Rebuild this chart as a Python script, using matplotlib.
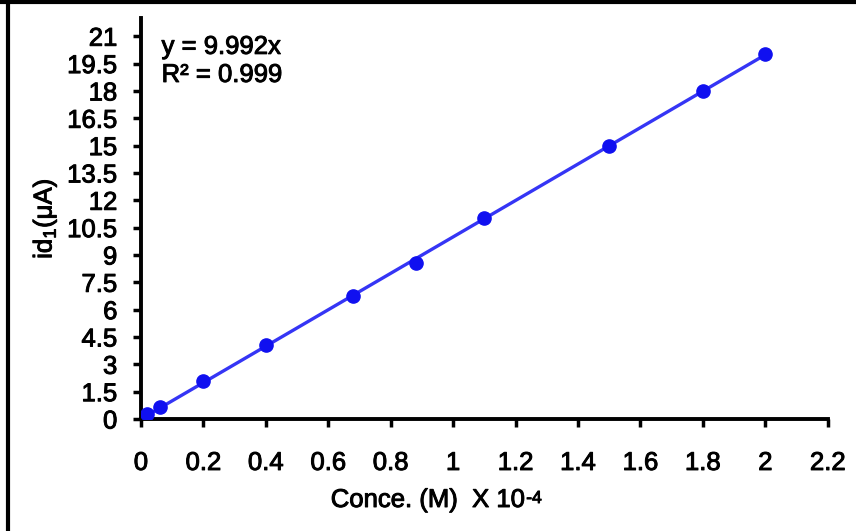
import numpy as np
import matplotlib
matplotlib.use("Agg")
import matplotlib.pyplot as plt
import matplotlib.patheffects as pe
from matplotlib.lines import Line2D

# Calibration data
conc = [0.02, 0.06, 0.20, 0.40, 0.68, 0.88, 1.10, 1.50, 1.80, 2.00]   # M x 10^-4
current = [0.30, 0.66, 2.08, 4.06, 6.74, 8.55, 11.02, 14.97, 17.98, 20.00]  # uA
slope = 9.992
r2 = 0.999

x_ticks = [0, 0.2, 0.4, 0.6, 0.8, 1, 1.2, 1.4, 1.6, 1.8, 2, 2.2]
y_ticks = [0, 1.5, 3, 4.5, 6, 7.5, 9, 10.5, 12, 13.5, 15, 16.5, 18, 19.5, 21]

FS = 18.5
heavy = [pe.withStroke(linewidth=0.7, foreground="black")]

plt.rcParams.update({
    "font.family": ["Liberation Sans", "DejaVu Sans"],
    "font.size": FS,
})

fig = plt.figure(figsize=(8.56, 5.31), dpi=100, facecolor="white")
ax = fig.add_axes([0.1647, 0.2109, 0.8023, 0.7552])

xs = np.array(conc)
ax.plot([xs.min(), xs.max()], [slope * xs.min(), slope * xs.max()],
        color="#3535f5", linewidth=2.4, zorder=2, solid_capstyle="butt")
ax.plot(conc, current, "o", color="#1010f0", markersize=9.5, zorder=3)

ax.set_xlim(0, 2.2)
ax.set_ylim(0, 22)
ax.set_xticks(x_ticks)
ax.set_xticklabels([f"{t:g}" for t in x_ticks])
ax.set_yticks(y_ticks)
ax.set_yticklabels([f"{t:g}" for t in y_ticks])

for side in ("top", "right"):
    ax.spines[side].set_visible(False)
for side in ("left", "bottom"):
    ax.spines[side].set_linewidth(2.8)
ax.tick_params(axis="both", direction="out", length=6, width=2.5, labelsize=FS)
ax.tick_params(axis="x", pad=17)
ax.tick_params(axis="y", pad=11)
for lab in ax.get_xticklabels() + ax.get_yticklabels():
    lab.set_path_effects(heavy)

# x label: main text plus a small "-4" exponent (hyphen, as in the original)
xl = ax.set_xlabel("Conce. (M)  X 10", fontsize=FS)
ax.xaxis.set_label_coords(0.418, -0.172)
xl.set_path_effects(heavy)
fig.canvas.draw()
bb = xl.get_window_extent()
exp = fig.text(bb.x1 / fig.bbox.width + 0.001, (bb.y1 - 3) / fig.bbox.height,
               "-4", fontsize=FS * 0.68, ha="left", va="top")
exp.set_path_effects(heavy)

yl = ax.set_ylabel(r"id$_{\mathregular{1}}$(μA)", fontsize=FS)
ax.yaxis.set_label_coords(-0.12, 0.5)
yl.set_path_effects(heavy)

t1 = ax.text(0.03, 0.928, f"y = {slope}x", transform=ax.transAxes,
             fontsize=FS, va="center", ha="left")
t2 = ax.text(0.03, 0.858, f"R² = {r2}", transform=ax.transAxes,
             fontsize=FS, va="center", ha="left")
t1.set_path_effects(heavy)
t2.set_path_effects(heavy)

# cropped frame around the figure (top and left edges only)
fig.add_artist(Line2D([0, 1], [0.9965, 0.9965], transform=fig.transFigure,
                      color="black", linewidth=3))
fig.add_artist(Line2D([0.0099, 0.0099], [0, 1], transform=fig.transFigure,
                      color="black", linewidth=3))

fig.savefig("out.png", dpi=100, facecolor="white")
